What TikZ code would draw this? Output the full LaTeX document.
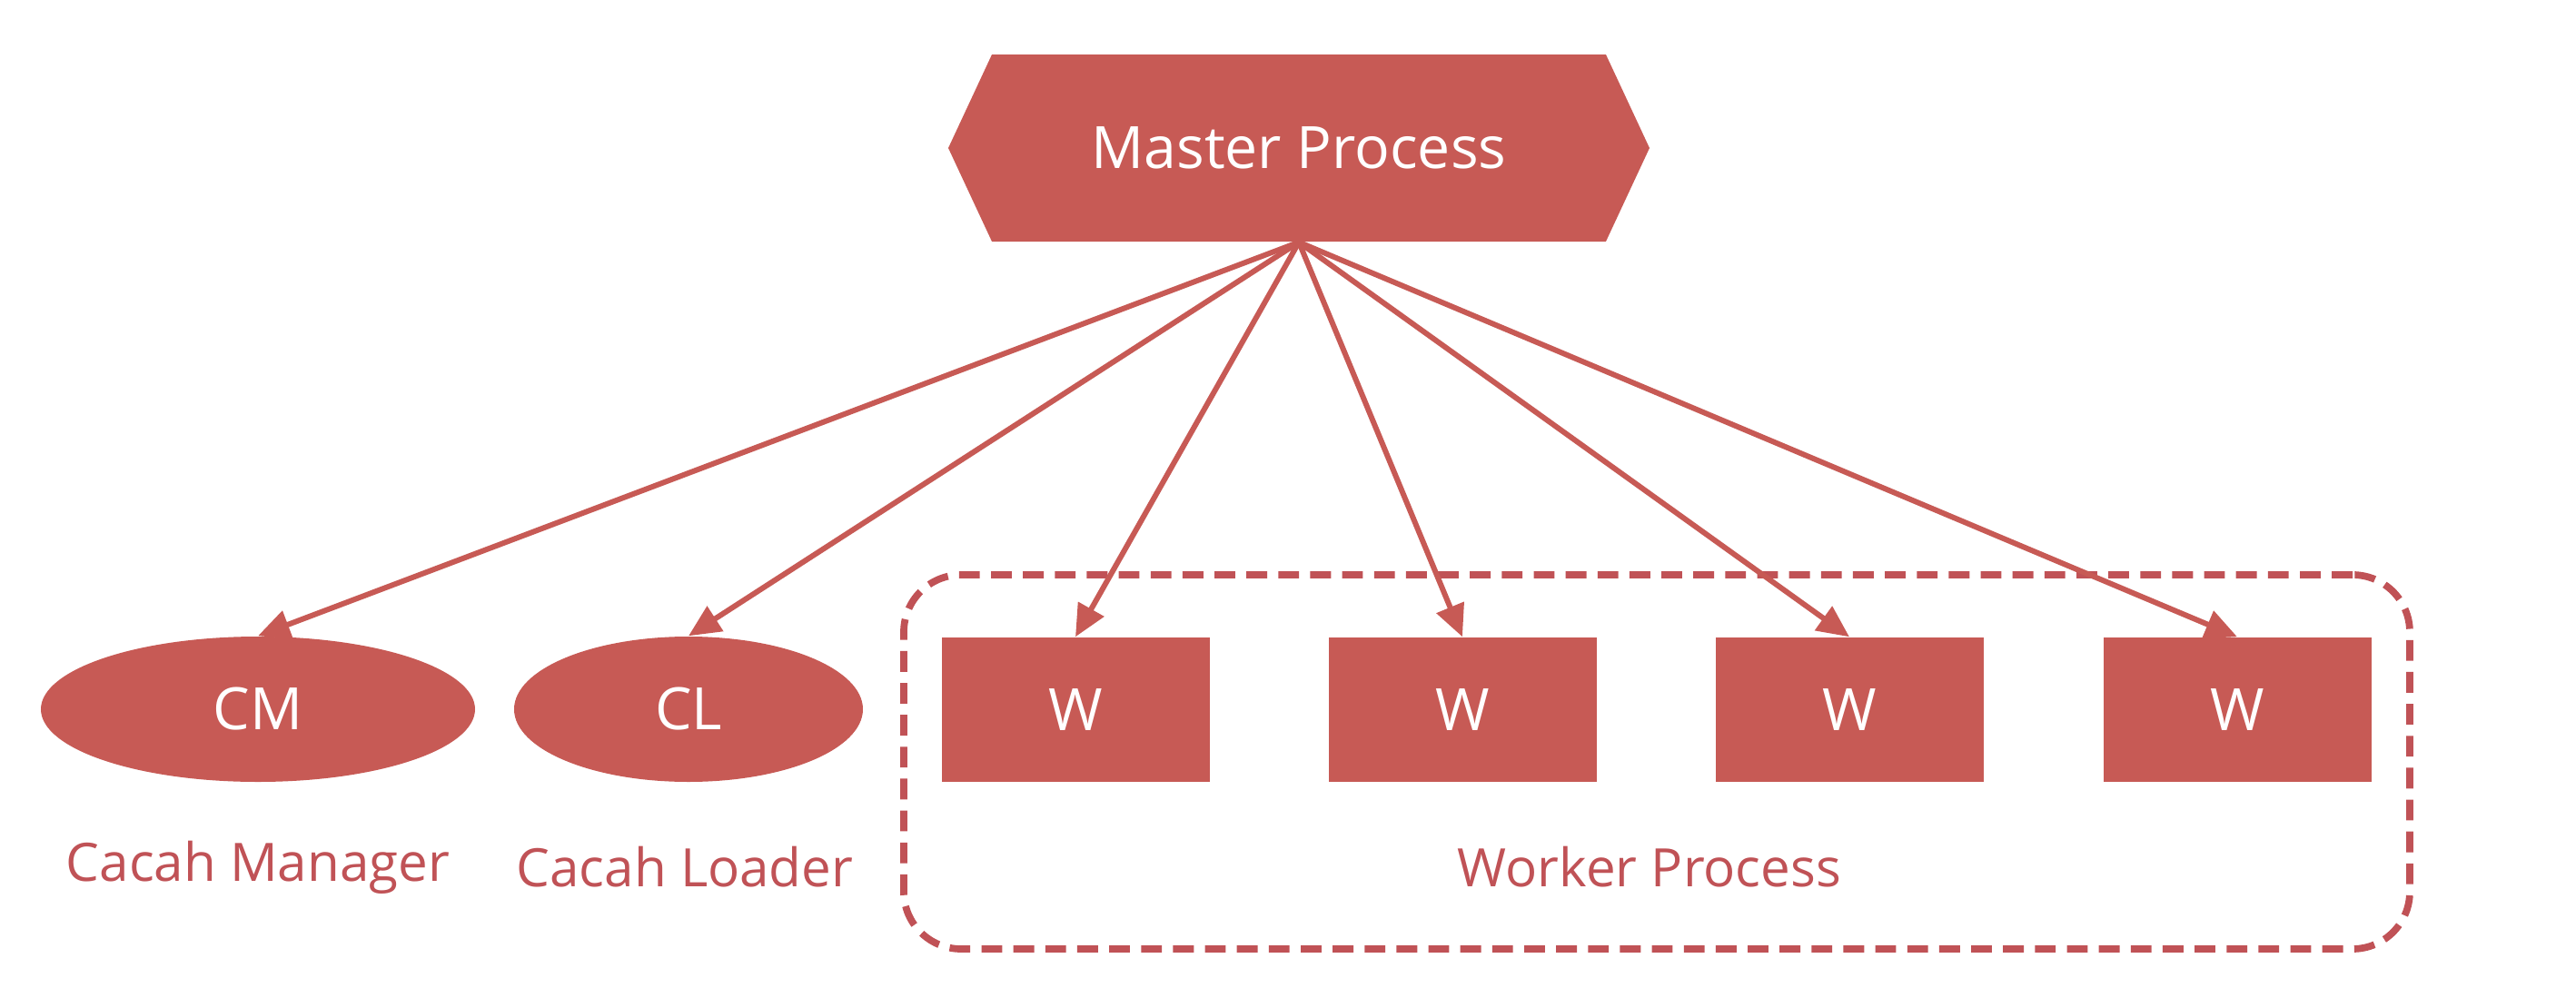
\documentclass[tikz,border=0pt]{standalone}
\usepackage{fontspec}
\setmainfont{Open Sans}
\usetikzlibrary{arrows.meta,shapes.geometric,shapes.symbols}
\definecolor{nred}{RGB}{199,90,85}
\definecolor{lred}{RGB}{192,82,86}
\begin{document}
\begin{tikzpicture}[
	every node/.style={font=\fontsize{16.6}{20}\selectfont},
	proc/.style={fill=nred,text=white,inner sep=0pt},
	big/.style={font=\fontsize{18.3}{22}\selectfont},
	lbl/.style={text=lred},
	conn/.style={draw=nred,line width=1.7pt,-{Triangle[length=10pt,width=9pt]}}
	]

	\useasboundingbox (0,0) rectangle (28.36,-10.88);

	\node[proc,big,shape=signal,signal to=west and east,signal pointer angle=130,
		minimum width=7.72cm,minimum height=2.06cm] (mp) at (14.30,-1.63) {Master Process};
	\node[proc,big,ellipse,minimum width=4.78cm,minimum height=1.60cm] (cm) at (2.84,-7.81) {CM};
	\node[proc,big,ellipse,minimum width=3.84cm,minimum height=1.60cm] (cl) at (7.58,-7.81) {CL};

	\foreach \i / \x in {1/11.84, 2/16.10, 3/20.36, 4/24.63}
	{
		\node[proc,big,minimum width=2.95cm,minimum height=1.59cm] (w\i) at (\x,-7.815) {W};
	};

	% worker group
	\node[draw=lred,line width=2.2pt,dash pattern=on 6.5pt off 3.5pt,rounded corners=0.63cm,
		minimum width=16.58cm,minimum height=4.12cm] (grp) at (18.24,-8.39) {};

	\node[lbl] (lcm) at (2.84,-9.55) {Cacah Manager};
	\node[lbl] (lcl) at (7.54,-9.55) {Cacah Loader};
	\node[lbl] (lwp) at (18.16,-9.55) {Worker Process};

	\foreach \j in {cm, cl, w1, w2, w3, w4}
	{
		\draw[conn] (mp.south) -- (\j.north);
	};
\end{tikzpicture}
\end{document}
